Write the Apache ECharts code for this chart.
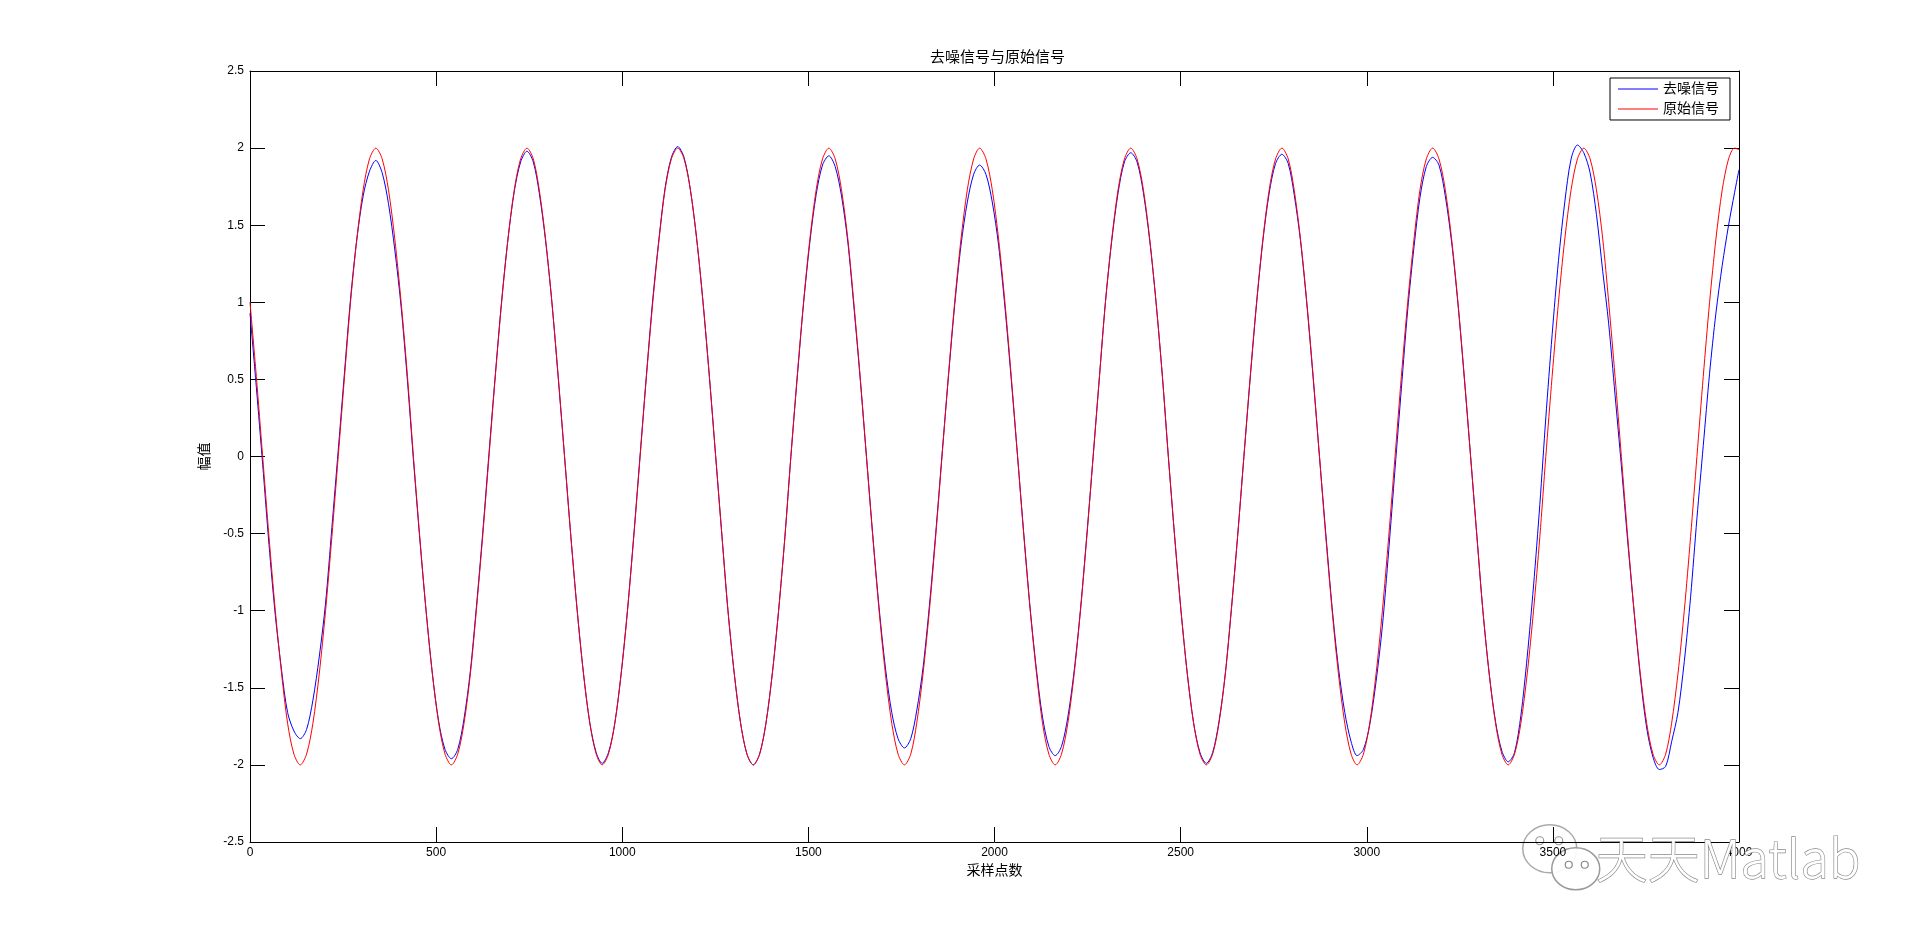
<!DOCTYPE html>
<html>
<head>
<meta charset="utf-8">
<script src="https://cdn.jsdelivr.net/npm/echarts@6/dist/echarts.min.js"></script>
<style>
html,body{margin:0;padding:0;background:#fff;}
#c{width:1921px;height:946px;}
</style>
</head>
<body>
<div id="c"></div>
<script>
// ---- data ----
const titleText = '去噪信号与原始信号';
const xName = '采样点数';
const yName = '幅值';
const seriesNames = ['去噪信号', '原始信号'];

const sampleX = [
  0, 17, 34, 51, 68, 85, 101, 118, 135, 152, 169, 186, 203, 220, 237, 254, 270, 287, 304, 321, 338, 355, 372, 389,
  406, 423, 439, 456, 473, 490, 507, 524, 541, 558, 575, 592, 608, 625, 642, 659, 676, 693, 710, 727, 744, 761, 777, 794,
  811, 828, 845, 862, 879, 896, 913, 930, 946, 963, 980, 997, 1014, 1031, 1048, 1065, 1082, 1099, 1115, 1132, 1149, 1166, 1183, 1200,
  1217, 1234, 1251, 1268, 1284, 1301, 1318, 1335, 1352, 1369, 1386, 1403, 1420, 1437, 1453, 1470, 1487, 1504, 1521, 1538, 1555, 1572, 1589, 1606,
  1622, 1639, 1656, 1673, 1690, 1707, 1724, 1741, 1758, 1775, 1791, 1808, 1825, 1842, 1859, 1876, 1893, 1910, 1927, 1944, 1960, 1977, 1994, 2011,
  2028, 2045, 2062, 2079, 2096, 2113, 2129, 2146, 2163, 2180, 2197, 2214, 2231, 2248, 2265, 2282, 2298, 2315, 2332, 2349, 2366, 2383, 2400, 2417,
  2434, 2451, 2467, 2484, 2501, 2518, 2535, 2552, 2569, 2586, 2603, 2620, 2636, 2653, 2670, 2687, 2704, 2721, 2738, 2755, 2772, 2789, 2805, 2822,
  2839, 2856, 2873, 2890, 2907, 2924, 2941, 2958, 2974, 2991, 3008, 3025, 3042, 3059, 3076, 3093, 3110, 3127, 3143, 3160, 3177, 3194, 3211, 3228,
  3245, 3262, 3279, 3296, 3312, 3329, 3346, 3363, 3380, 3397, 3414, 3431, 3448, 3465, 3481, 3498, 3515, 3532, 3549, 3566, 3583, 3600, 3617, 3634,
  3650, 3667, 3684, 3701, 3718, 3735, 3752, 3769, 3786, 3803, 3819, 3836, 3853, 3870, 3887, 3904, 3921, 3938, 3955, 3972, 3988, 4000];

// 原始信号 (red)
const originalY = [
  1, 0.52, 0, -0.52, -1, -1.41, -1.73, -1.93, -2, -1.93, -1.73, -1.41, -1, -0.52, 0, 0.52, 1, 1.41, 1.73, 1.93, 2, 1.93, 1.73, 1.41,
  1, 0.52, 0, -0.52, -1, -1.41, -1.73, -1.93, -2, -1.93, -1.73, -1.41, -1, -0.52, 0, 0.52, 1, 1.41, 1.73, 1.93, 2, 1.93, 1.73, 1.41,
  1, 0.52, 0, -0.52, -1, -1.41, -1.73, -1.93, -2, -1.93, -1.73, -1.41, -1, -0.52, 0, 0.52, 1, 1.41, 1.73, 1.93, 2, 1.93, 1.73, 1.41,
  1, 0.52, 0, -0.52, -1, -1.41, -1.73, -1.93, -2, -1.93, -1.73, -1.41, -1, -0.52, 0, 0.52, 1, 1.41, 1.73, 1.93, 2, 1.93, 1.73, 1.41,
  1, 0.52, 0, -0.52, -1, -1.41, -1.73, -1.93, -2, -1.93, -1.73, -1.41, -1, -0.52, 0, 0.52, 1, 1.41, 1.73, 1.93, 2, 1.93, 1.73, 1.41,
  1, 0.52, 0, -0.52, -1, -1.41, -1.73, -1.93, -2, -1.93, -1.73, -1.41, -1, -0.52, 0, 0.52, 1, 1.41, 1.73, 1.93, 2, 1.93, 1.73, 1.41,
  1, 0.52, 0, -0.52, -1, -1.41, -1.73, -1.93, -2, -1.93, -1.73, -1.41, -1, -0.52, 0, 0.52, 1, 1.41, 1.73, 1.93, 2, 1.93, 1.73, 1.41,
  1, 0.52, 0, -0.52, -1, -1.41, -1.73, -1.93, -2, -1.93, -1.73, -1.41, -1, -0.52, 0, 0.52, 1, 1.41, 1.73, 1.93, 2, 1.93, 1.73, 1.41,
  1, 0.52, 0, -0.52, -1, -1.41, -1.73, -1.93, -2, -1.93, -1.73, -1.41, -1, -0.52, 0, 0.52, 1, 1.41, 1.73, 1.93, 2, 1.93, 1.73, 1.41,
  1, 0.52, 0, -0.52, -1, -1.41, -1.73, -1.93, -2, -1.93, -1.73, -1.41, -1, -0.52, 0, 0.52, 1, 1.41, 1.73, 1.93, 2, 1.99];

// 去噪信号 (blue)
const denoisedY = [
  0.93, 0.45, -0.05, -0.57, -1.03, -1.39, -1.66, -1.78, -1.83, -1.77, -1.58, -1.30, -0.95, -0.46, 0.04, 0.55, 1.02, 1.41, 1.69, 1.85, 1.92, 1.84, 1.64, 1.34,
  0.97, 0.49, -0.02, -0.53, -1.00, -1.41, -1.72, -1.90, -1.96, -1.90, -1.70, -1.39, -0.98, -0.50, 0.02, 0.53, 1.01, 1.41, 1.72, 1.91, 1.98, 1.91, 1.71, 1.40,
  1.00, 0.51, 0.00, -0.52, -1.00, -1.41, -1.73, -1.92, -1.99, -1.92, -1.73, -1.41, -1.00, -0.51, 0.01, 0.53, 1.02, 1.42, 1.74, 1.94, 2.01, 1.94, 1.73, 1.41,
  1.00, 0.52, 0.00, -0.52, -1.00, -1.41, -1.73, -1.93, -2.00, -1.93, -1.73, -1.41, -1.00, -0.52, 0.00, 0.51, 0.99, 1.39, 1.70, 1.89, 1.95, 1.88, 1.69, 1.39,
  0.98, 0.51, 0.00, -0.51, -0.98, -1.37, -1.66, -1.83, -1.89, -1.83, -1.65, -1.37, -0.97, -0.50, 0.01, 0.51, 0.98, 1.37, 1.65, 1.83, 1.89, 1.83, 1.65, 1.37,
  0.97, 0.50, 0.00, -0.51, -0.99, -1.39, -1.69, -1.88, -1.94, -1.88, -1.69, -1.39, -0.99, -0.51, 0.00, 0.52, 1.00, 1.40, 1.71, 1.91, 1.97, 1.91, 1.71, 1.40,
  1.00, 0.52, 0.00, -0.52, -1.00, -1.41, -1.73, -1.92, -1.99, -1.92, -1.72, -1.41, -1.00, -0.52, 0.00, 0.51, 0.99, 1.40, 1.71, 1.90, 1.96, 1.90, 1.70, 1.40,
  0.99, 0.51, 0.00, -0.50, -0.98, -1.37, -1.66, -1.85, -1.94, -1.90, -1.74, -1.46, -1.10, -0.61, -0.08, 0.44, 0.95, 1.36, 1.68, 1.88, 1.94, 1.89, 1.69, 1.39,
  0.99, 0.51, 0.00, -0.52, -1.00, -1.41, -1.72, -1.91, -1.98, -1.92, -1.68, -1.30, -0.84, -0.31, 0.25, 0.79, 1.27, 1.65, 1.93, 2.02, 1.97, 1.84, 1.57, 1.20,
  0.86, 0.40, -0.06, -0.55, -1.00, -1.43, -1.76, -1.95, -2.03, -2.01, -1.85, -1.66, -1.33, -0.91, -0.40, 0.07, 0.54, 0.93, 1.24, 1.50, 1.71, 1.86];

const xTicks = {min: 0, max: 4000, step: 500};
const yTicks = {min: -2.5, max: 2.5, step: 0.5};
const watermarkText = '天天Matlab';
// --------------------------------------

const font = '"Liberation Sans", "Noto Sans CJK SC", sans-serif';
const blueData = sampleX.map((x, i) => [x, denoisedY[i]]);
const redData = sampleX.map((x, i) => [x, originalY[i]]);

const chart = echarts.init(document.getElementById('c'), null, {renderer: 'canvas'});

const axisCommon = {
  axisLine: {show: true, onZero: false, lineStyle: {color: '#000', width: 1}},
  axisTick: {show: true, inside: true, length: 15, lineStyle: {color: '#000', width: 1}},
  splitLine: {show: false}
};

chart.setOption({
  animation: false,
  backgroundColor: '#fff',
  title: {
    text: titleText, left: 925, top: 45,
    textStyle: {fontFamily: font, fontSize: 15, fontWeight: 'normal', color: '#000'}
  },
  legend: {
    data: seriesNames,
    orient: 'vertical',
    left: 1610, top: 78,
    padding: [4, 11, 4, 8],
    itemGap: 6,
    itemWidth: 40, itemHeight: 1,
    icon: 'rect',
    backgroundColor: '#fff',
    borderColor: '#000', borderWidth: 1, borderRadius: 0,
    textStyle: {fontFamily: font, fontSize: 14, color: '#000'}
  },
  grid: {left: 250, right: 182, top: 71, bottom: 104, containLabel: false},
  xAxis: [
    Object.assign({
      type: 'value', min: xTicks.min, max: xTicks.max, interval: xTicks.step,
      position: 'bottom',
      name: xName, nameLocation: 'middle', nameGap: 22,
      nameTextStyle: {fontFamily: font, fontSize: 14, color: '#000'},
      axisLabel: {show: true, margin: 5, fontFamily: font, fontSize: 12, color: '#000',
                  formatter: v => String(v)}
    }, axisCommon),
    Object.assign({
      type: 'value', min: xTicks.min, max: xTicks.max, interval: xTicks.step,
      position: 'top', axisLabel: {show: false}
    }, axisCommon)
  ],
  yAxis: [
    Object.assign({
      type: 'value', min: yTicks.min, max: yTicks.max, interval: yTicks.step,
      position: 'left',
      name: yName, nameLocation: 'middle', nameGap: 25, nameRotate: 90,
      nameTextStyle: {fontFamily: font, fontSize: 14, color: '#000'},
      axisLabel: {show: true, margin: 6, fontFamily: font, fontSize: 12, color: '#000'}
    }, axisCommon),
    Object.assign({
      type: 'value', min: yTicks.min, max: yTicks.max, interval: yTicks.step,
      position: 'right', axisLabel: {show: false}
    }, axisCommon)
  ],
  series: [
    {
      name: seriesNames[0], type: 'line', data: blueData,
      xAxisIndex: 0, yAxisIndex: 0,
      smooth: 0.3, showSymbol: false, symbol: 'none',
      lineStyle: {color: '#0000ff', width: 1}, itemStyle: {color: '#0000ff'}
    },
    {
      name: seriesNames[1], type: 'line', data: redData,
      xAxisIndex: 0, yAxisIndex: 0,
      smooth: 0.3, showSymbol: false, symbol: 'none',
      lineStyle: {color: '#ff0000', width: 1}, itemStyle: {color: '#ff0000'}
    }
  ],
  graphic: [
    {
      type: 'group', left: 1522, top: 824, z: 100,
      children: [
        {type: 'ellipse', shape: {cx: 27, cy: 24, rx: 27, ry: 24},
         style: {fill: 'rgba(255,255,255,0.85)', stroke: '#aaa', lineWidth: 1.5}},
        {type: 'circle', shape: {cx: 17, cy: 16, r: 4}, style: {fill: '#fff', stroke: '#999', lineWidth: 1.2}},
        {type: 'circle', shape: {cx: 36, cy: 16, r: 4}, style: {fill: '#fff', stroke: '#999', lineWidth: 1.2}},
        {type: 'ellipse', shape: {cx: 53, cy: 44, rx: 24, ry: 21},
         style: {fill: 'rgba(255,255,255,0.92)', stroke: '#999', lineWidth: 1.5}},
        {type: 'circle', shape: {cx: 46, cy: 40, r: 3.5}, style: {fill: '#fff', stroke: '#888', lineWidth: 1.2}},
        {type: 'circle', shape: {cx: 62, cy: 40, r: 3.5}, style: {fill: '#fff', stroke: '#888', lineWidth: 1.2}}
      ]
    },
    {
      type: 'text', left: 1595, top: 832, z: 100,
      style: {
        text: watermarkText, fontSize: 52, fontFamily: '"Noto Sans CJK SC", "Liberation Sans", sans-serif',
        fontWeight: 300,
        fill: '#fff', stroke: '#8a8a8a', lineWidth: 1.3,
        shadowColor: 'rgba(0,0,0,0.4)', shadowBlur: 2, shadowOffsetX: 1, shadowOffsetY: 1
      }
    }
  ]
});
</script>
</body>
</html>
